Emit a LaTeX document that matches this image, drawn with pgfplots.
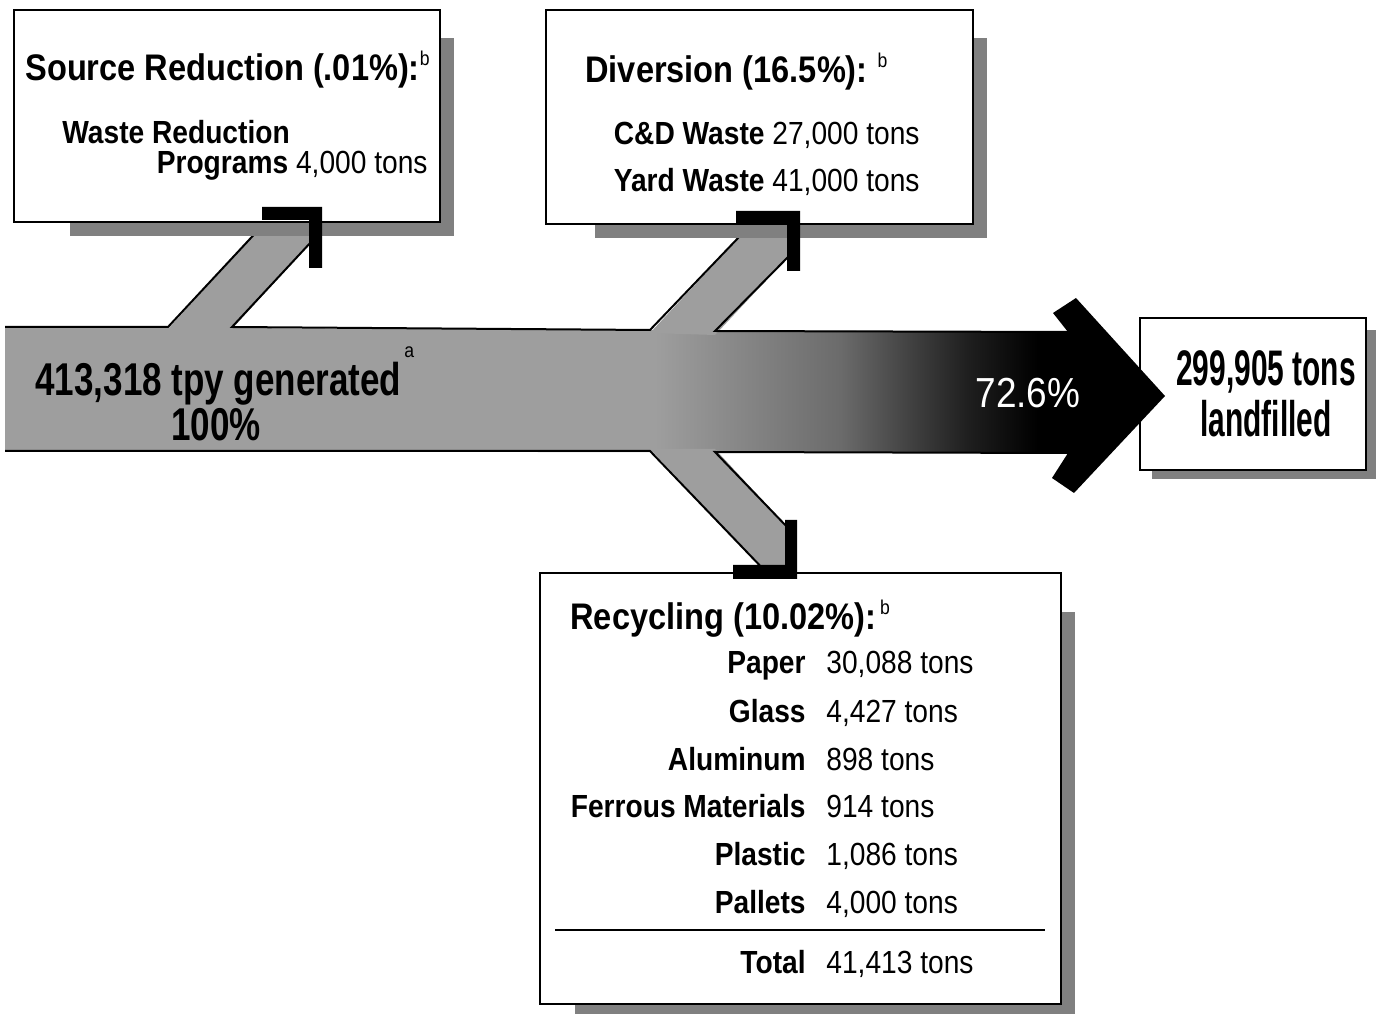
\documentclass[border=0pt]{standalone}
\usepackage{pgfplots}
\pgfplotsset{compat=1.18}
\usepackage{graphicx}
\usepackage{fontspec}
\setmainfont{Liberation Sans}[FakeStretch=0.88]
\definecolor{bandgray}{gray}{0.62}
\definecolor{shadowgray}{gray}{0.5}
\pgfdeclarehorizontalshading{mainshade}{100bp}{color(0bp)=(bandgray); color(53bp)=(bandgray); color(61bp)=(black!58); color(66.5bp)=(black!88); color(69.5bp)=(black); color(100bp)=(black)}
\newcommand{\ttl}{\fontsize{18.5}{20}\selectfont\bfseries}
\newcommand{\itm}{\fontsize{16}{18}\selectfont}
\newcommand{\supf}{\fontsize{10}{11}\selectfont\mdseries}
\newcommand{\supb}{\raisebox{7.5pt}{\supf b}}
\begin{document}
\begin{tikzpicture}
\begin{axis}[width=688pt,height=507.5pt,scale only axis,
  xmin=0,xmax=1376,ymin=0,ymax=1015,y dir=reverse,hide axis,clip=false]
% background (fixes the picture's extent)
\addplot[fill=white,draw=none] coordinates {(0,0) (1376,0) (1376,1015) (0,1015)} --cycle;
% landfilled box (drawn under the arrow tip)
\addplot[fill=shadowgray,draw=none] coordinates {(1152,330) (1376,330) (1376,479) (1152,479)} --cycle;
\addplot[fill=white,draw=black,line width=1.4pt] coordinates {(1140,318) (1366,318) (1366,470) (1140,470)} --cycle;
% main band with arrow head
\addplot[shade,shading=mainshade,draw=none] coordinates {(5,327) (1068,332) (1053,313) (1076,298) (1165,396) (1074,493) (1052,478) (1068,453) (5,451)} --cycle;
% branches
\addplot[fill=bandgray,draw=none] coordinates {(168,329) (275,212) (312,212) (312,241) (232,329)} --cycle;
\addplot[fill=bandgray,draw=none] coordinates {(650,333) (762,213) (790,213) (790,255) (715,335)} --cycle;
\addplot[fill=bandgray,draw=none] coordinates {(650,449) (767,573) (790,573) (790,530) (715,449)} --cycle;
% outlines
\addplot[black,line width=1pt] coordinates {(5,327) (168,327) (275,212)};
\addplot[black,line width=1pt] coordinates {(312,241) (232,327) (650,330) (762,213)};
\addplot[black,line width=1pt] coordinates {(790,255) (715,331) (1068,332)};
\addplot[black,line width=1pt] coordinates {(5,451) (650,451) (767,573)};
\addplot[black,line width=1pt] coordinates {(790,530) (715,452) (1068,453)};
% shadows
\addplot[fill=shadowgray,draw=none] coordinates {(70,38) (454,38) (454,236) (70,236)} --cycle;
\addplot[fill=shadowgray,draw=none] coordinates {(595,38) (987,38) (987,238) (595,238)} --cycle;
\addplot[fill=shadowgray,draw=none] coordinates {(575,612) (1075,612) (1075,1014) (575,1014)} --cycle;
% boxes
\addplot[fill=white,draw=black,line width=1.4pt] coordinates {(14,10) (440,10) (440,222) (14,222)} --cycle;
\addplot[fill=white,draw=black,line width=1.4pt] coordinates {(546,10) (973,10) (973,224) (546,224)} --cycle;
\addplot[fill=white,draw=black,line width=1.4pt] coordinates {(540,573) (1061,573) (1061,1004) (540,1004)} --cycle;
% brackets (arrow tips)
\addplot[fill=black,draw=none] coordinates {(262,207) (322,207) (322,268) (309,268) (309,220) (262,220)} --cycle;
\addplot[fill=black,draw=none] coordinates {(736,211) (800,211) (800,271) (787,271) (787,224) (736,224)} --cycle;
\addplot[fill=black,draw=none] coordinates {(785,520) (797,520) (797,579) (733,579) (733,565) (785,565)} --cycle;
% separator
\addplot[black,line width=1pt] coordinates {(555,930) (1045,930)};
% texts: source reduction
\node[anchor=base west,inner sep=0pt] at (25,81) {\ttl Source Reduction (.01\%):\supb};
\node[anchor=base west,inner sep=0pt] at (62,144) {\itm\bfseries Waste Reduction};
\node[anchor=base east,inner sep=0pt] at (428,174) {\itm\textbf{Programs} 4,000 tons};
% diversion
\node[anchor=base west,inner sep=0pt] at (585,83) {\ttl Diversion (16.5\%):\hspace{5pt}\supb};
\node[anchor=base east,inner sep=0pt] at (920,145) {\itm\textbf{C\&D Waste} 27,000 tons};
\node[anchor=base east,inner sep=0pt] at (920,192) {\itm\textbf{Yard Waste} 41,000 tons};
% band
\node[anchor=base west,inner sep=0pt] at (35,396) {\scalebox{0.865}[1]{\fontsize{23}{25}\selectfont\bfseries 413,318 tpy generated}};
\node[anchor=base west,inner sep=0pt] at (404,358) {\supf a};
\node[anchor=base,inner sep=0pt] at (216,441) {\scalebox{0.865}[1]{\fontsize{23}{25}\selectfont\bfseries 100\%}};
\node[anchor=base,inner sep=0pt,text=white] at (1028,408) {\fontsize{21}{23}\selectfont 72.6\%};
% landfilled
\node[anchor=base,inner sep=0pt] at (1266,386) {\scalebox{0.68}[1]{\fontsize{25}{27}\selectfont\bfseries 299,905 tons}};
\node[anchor=base,inner sep=0pt] at (1266,437) {\scalebox{0.68}[1]{\fontsize{25}{27}\selectfont\bfseries landfilled}};
% recycling
\node[anchor=base west,inner sep=0pt] at (570,630) {\ttl Recycling (10.02\%):\hspace{2pt}\supb};
\node[anchor=base east,inner sep=0pt] at (806,674) {\itm\bfseries Paper};
\node[anchor=base west,inner sep=0pt] at (826,674) {\itm 30,088 tons};
\node[anchor=base east,inner sep=0pt] at (806,722) {\itm\bfseries Glass};
\node[anchor=base west,inner sep=0pt] at (826,722) {\itm 4,427 tons};
\node[anchor=base east,inner sep=0pt] at (806,770) {\itm\bfseries Aluminum};
\node[anchor=base west,inner sep=0pt] at (826,770) {\itm 898 tons};
\node[anchor=base east,inner sep=0pt] at (806,817) {\itm\bfseries Ferrous Materials};
\node[anchor=base west,inner sep=0pt] at (826,817) {\itm 914 tons};
\node[anchor=base east,inner sep=0pt] at (806,865) {\itm\bfseries Plastic};
\node[anchor=base west,inner sep=0pt] at (826,865) {\itm 1,086 tons};
\node[anchor=base east,inner sep=0pt] at (806,913) {\itm\bfseries Pallets};
\node[anchor=base west,inner sep=0pt] at (826,913) {\itm 4,000 tons};
\node[anchor=base east,inner sep=0pt] at (806,973) {\itm\bfseries Total};
\node[anchor=base west,inner sep=0pt] at (826,973) {\itm 41,413 tons};
\end{axis}
\end{tikzpicture}
\end{document}
